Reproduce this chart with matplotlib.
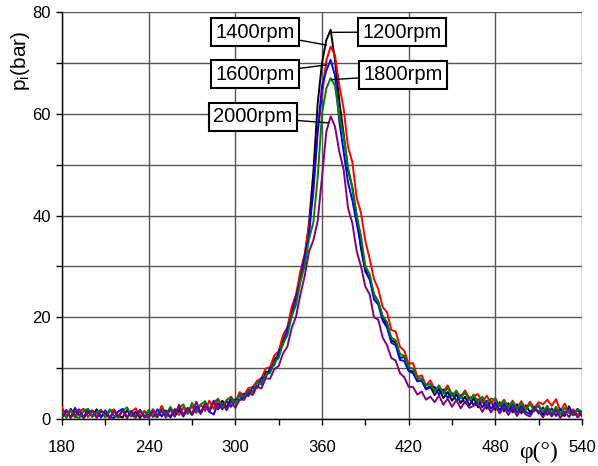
import numpy as np
import matplotlib
matplotlib.use("Agg")
import matplotlib.pyplot as plt
from matplotlib.ticker import MultipleLocator

# --- 1. DATA (crank angle step 3 deg) ---
angle = np.arange(180, 541, 3)

p_1200 = [1.6, 0.3, 2.0, 0.6, 1.7, 0.2, 1.3, 0.5, 1.9, 0.4,
          1.2, 0.2, 1.6, 0.6, 0.3, 1.7, 0.5, 1.4, 0.2, 1.5,
          0.6, 1.9, 0.4, 1.6, 0.7, 2.1, 0.5, 1.7, 0.8, 2.2,
          1.0, 2.4, 1.2, 2.8, 1.5, 3.3, 1.9, 3.6, 2.3, 4.0,
          3.2, 4.9, 3.8, 5.8, 5.2, 7.4, 6.8, 9.3, 9.2, 11.8,
          12.5, 15.8, 17.0, 21.5, 23.5, 28.5, 31.5, 38.5, 48.5, 62.0,
          70.0, 74.5, 76.5, 70.5, 62.5, 56.0, 49.0, 45.5, 40.0, 33.5,
          29.0, 27.5, 24.5, 23.0, 20.0, 18.5, 15.5, 15.0, 12.0, 12.2,
          9.6, 9.3, 7.6, 7.5, 6.0, 6.4, 4.7, 5.9, 4.1, 5.3,
          3.6, 4.9, 3.1, 4.4, 2.7, 4.1, 2.3, 3.8, 2.0, 3.5,
          1.8, 3.3, 1.5, 3.1, 1.3, 2.9, 1.1, 2.7, 1.4, 2.0,
          2.6, 0.9, 2.4, 0.7, 2.3, 1.0, 0.6, 2.5, 0.8, 2.0,
          0.8]

p_1400 = [2.3, 0.6, 1.7, 0.3, 1.5, 2.0, 0.4, 1.6, 0.5, 1.8,
          0.3, 1.5, 1.9, 0.5, 1.7, 0.2, 1.4, 2.1, 0.6, 1.6,
          0.4, 1.8, 0.7, 2.6, 0.9, 0.5, 2.0, 0.8, 2.3, 1.1,
          2.5, 1.2, 2.9, 1.6, 3.6, 2.0, 4.0, 2.5, 3.7, 4.4,
          3.2, 5.3, 4.6, 6.1, 6.2, 7.5, 8.0, 9.9, 10.2, 12.5,
          13.3, 16.5, 18.0, 22.0, 24.5, 29.0, 32.5, 38.0, 44.5, 56.5,
          63.5, 70.5, 73.2, 71.5, 65.5, 61.0, 53.5, 50.5, 43.5, 40.5,
          35.0, 31.5, 27.5, 25.5, 22.0, 21.0, 17.5, 17.2, 14.2, 13.4,
          10.8, 11.0, 8.3, 8.6, 6.6, 7.6, 5.8, 6.3, 5.5, 6.6,
          4.8, 5.2, 4.4, 5.6, 4.1, 4.5, 4.9, 3.2, 4.6, 3.0,
          4.1, 2.6, 3.8, 2.3, 3.6, 2.1, 3.5, 2.0, 3.4, 2.1,
          3.3, 2.9, 3.8, 2.6, 3.9, 1.6, 3.0, 1.3, 1.9, 0.8,
          1.4]

p_1600 = [0.4, 1.8, 0.3, 2.2, 0.7, 0.4, 1.9, 0.5, 1.6, 0.3,
          1.7, 0.4, 0.2, 1.5, 2.0, 0.3, 1.6, 0.5, 1.8, 0.3,
          1.5, 0.4, 1.9, 0.5, 1.7, 0.3, 1.6, 2.1, 0.5, 1.9,
          0.8, 2.3, 1.0, 2.8, 1.4, 0.9, 3.1, 1.9, 3.5, 2.4,
          3.9, 3.7, 5.0, 4.5, 6.3, 6.1, 8.0, 8.2, 10.0, 10.6,
          13.2, 14.6, 17.8, 20.1, 23.9, 27.1, 31.9, 36.1, 45.5, 56.5,
          65.5, 68.5, 70.6, 67.5, 58.5, 52.5, 46.5, 43.0, 38.5, 34.0,
          29.5, 27.5, 23.5, 22.5, 19.3, 18.0, 15.0, 14.5, 11.6, 11.4,
          9.4, 9.0, 7.4, 7.6, 5.8, 6.2, 6.3, 4.8, 5.8, 4.1,
          5.1, 3.6, 4.7, 3.1, 4.2, 2.7, 3.9, 2.3, 3.6, 2.0,
          3.3, 1.7, 3.0, 1.5, 2.9, 1.2, 2.6, 1.4, 1.0, 2.4,
          1.1, 2.3, 0.8, 2.1, 0.6, 2.0, 0.9, 2.2, 0.7, 1.8,
          0.6]

p_1800 = [1.4, 0.3, 1.7, 0.5, 0.2, 1.6, 2.0, 0.4, 1.3, 1.8,
          0.4, 1.9, 0.6, 0.3, 1.6, 2.3, 0.6, 0.4, 1.7, 0.5,
          1.8, 0.6, 0.4, 2.0, 0.7, 2.4, 0.9, 2.2, 2.9, 1.0,
          3.2, 1.5, 2.8, 3.5, 1.9, 3.3, 3.9, 2.3, 3.7, 4.2,
          3.0, 4.7, 4.3, 5.5, 5.2, 7.2, 6.8, 8.7, 9.0, 11.1,
          12.0, 14.9, 16.4, 20.2, 22.4, 26.9, 30.1, 35.4, 38.6, 47.5,
          60.0, 65.0, 67.0, 65.5, 59.5, 55.5, 49.5, 45.5, 40.0, 36.0,
          30.0, 28.5, 24.5, 23.0, 20.3, 19.0, 16.0, 15.5, 12.8, 12.4,
          10.2, 9.9, 8.0, 8.0, 6.6, 6.9, 5.4, 6.6, 5.0, 6.1,
          4.5, 5.6, 4.1, 5.2, 3.7, 4.8, 3.3, 4.4, 2.9, 4.0,
          3.8, 2.5, 3.6, 2.2, 3.4, 1.9, 3.2, 1.7, 3.0, 1.5,
          2.8, 1.3, 2.6, 1.1, 2.4, 0.9, 2.2, 1.2, 0.8, 1.9,
          1.5]

p_2000 = [0.3, 1.6, 0.2, 1.4, 1.9, 0.3, 1.3, 1.7, 0.2, 1.5,
          1.3, 0.1, 1.6, 0.4, 1.8, 0.3, 1.4, 0.2, 1.7, 0.4,
          0.3, 1.5, 0.4, 1.7, 0.3, 1.9, 0.5, 2.8, 0.8, 2.2,
          0.9, 3.4, 1.2, 3.0, 1.5, 3.6, 1.9, 3.2, 1.7, 3.5,
          2.2, 3.8, 3.8, 5.2, 4.7, 6.4, 6.0, 8.0, 7.9, 9.8,
          10.4, 12.9, 14.2, 17.9, 20.1, 24.4, 28.1, 32.9, 35.1, 38.9,
          47.5, 56.5, 59.5, 57.5, 52.5, 49.0, 41.5, 38.5, 33.0, 30.0,
          26.0, 24.5, 20.0, 19.5, 16.0, 14.5, 12.0, 11.5, 9.0, 8.2,
          6.3, 6.3, 4.8, 5.4, 3.8, 4.4, 3.3, 4.6, 2.8, 4.0,
          2.4, 3.7, 2.1, 3.4, 2.2, 2.6, 3.0, 1.4, 2.8, 1.3,
          2.6, 1.1, 2.4, 0.8, 2.2, 0.6, 2.0, 0.9, 0.5, 1.9,
          1.6, 0.3, 1.8, 0.5, 1.7, 0.2, 1.5, 0.4, 1.6, 0.3,
          1.2]

labels = ["1200rpm", "1400rpm", "1600rpm", "1800rpm", "2000rpm"]
colors = ["black", "red", "blue", "green", "purple"]

# label box positions (figure pixels, from top-left) and where the leader hits the curve
label_box = [(402, 32), (255, 32), (255, 74), (403, 75), (253, 117)]
label_tip = [(366.7, 76.0), (363.2, 73.5), (363.2, 69.6), (366.7, 66.7), (364.4, 58.2)]

# --- 2. PLOT ---
plt.rcParams["font.family"] = ["Liberation Sans", "DejaVu Sans"]
plt.rcParams["mathtext.fontset"] = "custom"
plt.rcParams["mathtext.rm"] = "Liberation Sans"
plt.rcParams["mathtext.it"] = "Liberation Sans"

W, H = 598, 466
fig = plt.figure(figsize=(W / 100, H / 100), dpi=100)
ax = fig.add_axes([62 / W, (H - 419) / H, 520 / W, 407 / H])

for series, c in zip([p_1200, p_1400, p_1600, p_1800, p_2000], colors):
    ax.plot(angle, series, color=c, lw=1.4, zorder=3)

ax.set_xlim(180, 540)
ax.set_ylim(0, 80)
ax.xaxis.set_major_locator(MultipleLocator(60))
ax.xaxis.set_minor_locator(MultipleLocator(30))
ax.yaxis.set_major_locator(MultipleLocator(20))
ax.yaxis.set_minor_locator(MultipleLocator(10))

ax.grid(True, which="both", axis="y", color="#555555", lw=1.0, zorder=1)
ax.grid(True, which="major", axis="x", color="#555555", lw=1.0, zorder=1)
ax.spines["top"].set_visible(False)
ax.spines["right"].set_visible(False)
ax.spines["left"].set_linewidth(1.0)
ax.spines["bottom"].set_linewidth(1.0)

ax.tick_params(axis="both", which="both", direction="out", length=4, width=1.0, labelsize=12)
ax.tick_params(axis="x", which="major", pad=11)
ax.tick_params(axis="y", which="major", pad=4)

fig.text(20 / W, 1 - 61 / H, "p$_\\mathrm{i}$(bar)", rotation=90, ha="center", va="center", fontsize=15)
fig.text(539 / W, 1 - 452 / H, "φ(°)", ha="center", va="center", fontsize=17,
         family=["Liberation Serif", "DejaVu Serif"])

for lab, (bx, by), (tx, ty) in zip(labels, label_box, label_tip):
    ax.annotate(lab, xy=(tx, ty), xytext=(bx, H - by), textcoords="figure pixels",
                ha="center", va="center", fontsize=14.5, zorder=5,
                bbox=dict(boxstyle="square,pad=0.2", fc="white", ec="black", lw=1.5),
                arrowprops=dict(arrowstyle="-", color="black", lw=1.0, shrinkA=0, shrinkB=0))

plt.savefig("out.png", dpi=100)
plt.close()
